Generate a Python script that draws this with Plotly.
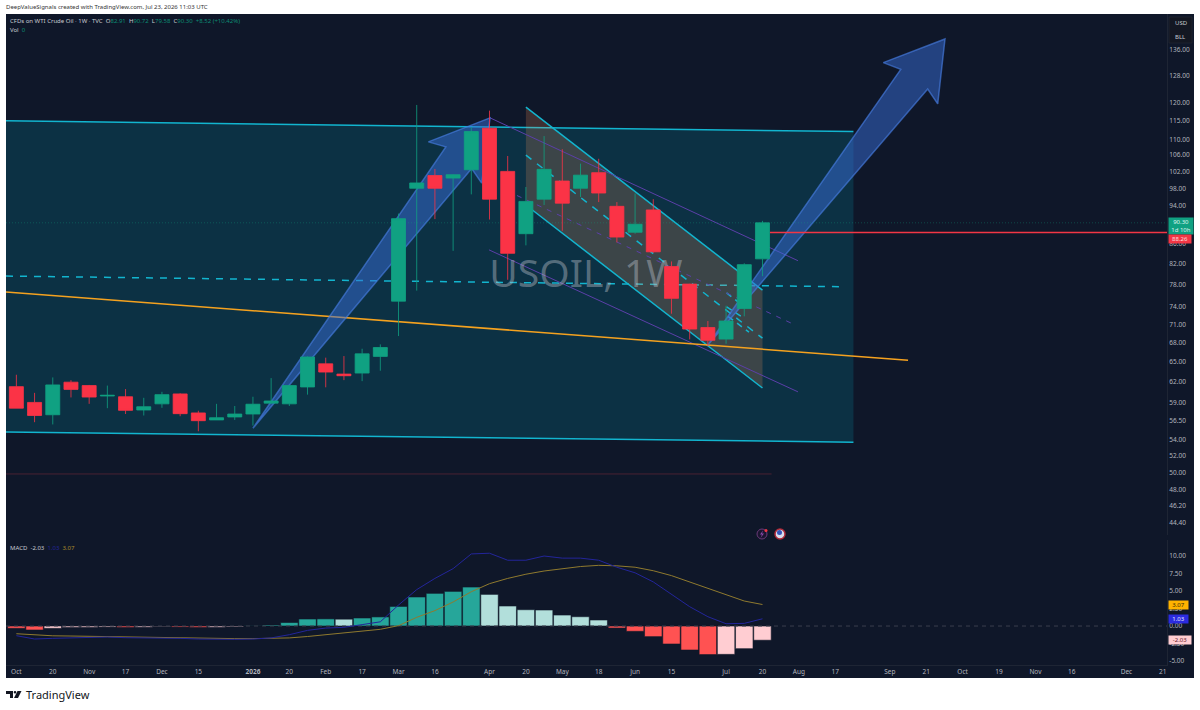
"""USOIL weekly chart with drawings and MACD pane."""

import plotly.graph_objects as go

# Candles, one per week
week_open = [61.25, 59.0, 57.3, 61.9, 61.4, 59.9, 59.8, 57.95, 58.8, 60.2, 57.55, 56.6, 57.0, 57.4,
             58.9, 58.8, 61.2, 64.65, 63.1, 63.25, 65.8, 75.0, 98.0, 101.0, 100.4, 102.4, 113.0, 102.0,
             88.0, 95.5, 99.7, 98.0, 101.7, 93.9, 88.3, 93.1, 81.4, 78.1, 70.45, 68.55, 73.7, 82.91]
week_high = [63.0, 60.35, 62.6, 62.2, 61.5, 61.4, 60.9, 59.65, 60.5, 60.3, 57.85, 58.8, 58.5, 59.8,
             62.5, 61.5, 65.8, 65.6, 65.85, 67.0, 67.7, 92.3, 119.4, 102.6, 101.3, 113.3, 117.8, 105.8,
             98.3, 110.9, 107.5, 103.9, 105.1, 94.85, 96.8, 95.5, 82.4, 78.15, 71.55, 74.2, 82.05, 90.72]
week_low = [58.2, 56.3, 56.0, 59.7, 58.8, 58.2, 57.4, 57.2, 58.25, 57.1, 55.1, 56.6, 56.6, 55.85,
            58.9, 58.5, 60.1, 61.15, 62.2, 62.05, 63.6, 69.05, 76.9, 91.1, 84.5, 96.6, 91.0, 78.9,
            85.6, 94.2, 88.6, 96.0, 94.85, 86.2, 88.0, 84.1, 72.8, 68.5, 67.4, 67.8, 72.35, 79.58]
week_close = [58.2, 57.2, 61.5, 60.85, 59.75, 60.0, 57.9, 58.4, 60.1, 57.45, 56.5, 56.9, 57.4, 58.75,
              59.2, 61.4, 65.7, 63.4, 62.85, 66.2, 67.2, 91.2, 99.25, 98.0, 101.2, 112.1, 95.5, 84.0,
              95.0, 102.5, 94.6, 101.1, 96.9, 87.3, 90.0, 84.3, 75.5, 70.2, 68.35, 71.55, 81.78, 90.3]

# MACD pane
macd_hist = [-0.33, -0.57, -0.33, -0.2, -0.19, -0.15, -0.2, -0.17, -0.08, -0.15, -0.2, -0.18, -0.12, 0.03,
             0.15, 0.5, 1.0, 1.02, 0.98, 1.15, 1.3, 2.8, 4.15, 4.67, 4.95, 5.57, 4.52, 2.86,
             2.33, 2.29, 1.57, 1.33, 0.86, -0.29, -0.76, -1.52, -2.57, -3.43, -4.08, -4.05, -3.24, -2.03]
macd_line = [-1.38, -1.86, -1.76, -1.67, -1.62, -1.57, -1.67, -1.67, -1.67, -1.76, -1.86, -1.9, -1.9, -1.86,
             -1.7, -1.24, -0.62, -0.29, -0.19, 0.2, 0.6, 3.0, 5.2, 6.8, 8.2, 10.3, 10.4, 9.4,
             9.4, 10.0, 9.7, 9.7, 9.4, 8.4, 7.6, 6.3, 4.5, 2.76, 1.33, 0.33, 0.38, 1.03]
signal_line = [-1.1, -1.3, -1.4, -1.43, -1.48, -1.5, -1.55, -1.6, -1.6, -1.65, -1.7, -1.75, -1.8, -1.8,
               -1.8, -1.7, -1.5, -1.25, -1.0, -0.75, -0.47, 0.05, 1.24, 2.2, 3.43, 4.9, 6.05, 6.8,
               7.4, 7.86, 8.2, 8.5, 8.67, 8.6, 8.4, 7.9, 7.2, 6.3, 5.3, 4.4, 3.57, 3.07]

# Axis labels
time_ticks = [0, 2, 4, 6, 8, 10, 13, 15, 17, 19, 21, 23, 26, 28, 30, 32, 34, 36, 39, 41, 43, 45, 48, 50, 52, 54, 56, 58, 61, 63]
time_labels = ["Oct", "20", "Nov", "17", "Dec", "15", "<b>2026</b>", "20", "Feb", "17", "Mar", "16", "Apr", "20",
               "May", "18", "Jun", "15", "Jul", "20", "Aug", "17", "Sep", "21", "Oct", "19", "Nov", "16", "Dec", "21"]
price_ticks = [136, 128, 120, 115, 110, 106, 102, 98, 94, 86, 82, 78, 74, 71, 68, 65, 62, 59, 56.5,
               54, 52, 50, 48, 46.2, 44.4, 42.8]
macd_ticks = [10, 7.5, 5, 2.5, 0, -2.5, -5]

# Drawings, as (week index, price) pairs
channel_x = [-0.57, 46]
channel_top = [115, 112.1]
channel_bottom = [55, 53.7]
channel_mid_x = [-0.57, 45.5]
channel_mid = [79.6, 77.6]
support_x = [-0.57, 49]
support = [76.65, 65.2]
faint_x = [-0.57, 41.5]
faint = [49.8, 49.8]

down_x = [28, 41]
down_top = [118.8, 77.0]
down_bottom = [94.2, 61.05]
down_mid = [106.0, 68.7]

fork_upper_x = [26.03, 42.95]
fork_upper = [115.8, 82.55]
fork_mid_x = [26.96, 42.68]
fork_mid = [97.4, 71.05]
fork_lower_x = [25.97, 42.95]
fork_lower = [84.7, 60.5]

short_dash_x = [[39.03, 40.04], [39.03, 40.04], [39.12, 40.26]]
short_dash = [[76.5, 73.9], [74.0, 71.9], [72.3, 69.7]]

arrow1_x = [13.0, 23.6, 22.64, 26.03, 25.57, 25.02, 13.0]
arrow1_y = [55.5, 108.1, 109.4, 115.8, 99.2, 102.7, 55.5]
arrow2_x = [38.0, 48.6, 47.64, 51.03, 50.63, 50.08, 38.0]
arrow2_y = [67.6, 129.9, 132.0, 139.6, 119.7, 124.0, 67.6]

last_price = 90.3
target_price = 88.26
X_LEFT, X_RIGHT = -0.57, 63.23

NAVY = "#0f1729"
CYAN = "#12b5cf"
PURPLE = "#5b3fa8"
UP = "#10a182"
DOWN = "#fb3346"
FONT = "Noto Sans"


def px(x):
    return x / 1200


def py(y):
    return 1 - y / 710


def add_line(fig, x, y, color, width=1.5, dash=None):
    fig.add_trace(go.Scatter(x=x, y=y, mode="lines", yaxis="y",
                             line=dict(color=color, width=width, dash=dash)))


def add_label(fig, x, y, text, color="#b2b5be", size=6, bg=None, width=None, height=None):
    fig.add_annotation(xref="paper", yref="paper", x=px(x), y=py(y), text=text, showarrow=False,
                       xanchor="left", yanchor="middle", align="center" if width else "left",
                       bgcolor=bg, borderpad=0, width=width, height=height,
                       font=dict(family=FONT, size=size, color=color))


weeks = list(range(len(week_close)))

# Histogram colours follow the rising/falling rule of the indicator
hist_colors = []
for i, v in enumerate(macd_hist):
    rising = i > 0 and v > macd_hist[i - 1]
    if v >= 0:
        hist_colors.append("#26a69a" if rising else "#b2dfdb")
    else:
        hist_colors.append("#ffcdd2" if rising else "#ff5252")

fig = go.Figure()

# Big channel
fig.add_trace(go.Scatter(x=channel_x + channel_x[::-1], y=channel_top + channel_bottom[::-1], mode="none",
                         fill="toself", fillcolor="rgba(0,188,212,0.16)", yaxis="y"))
add_line(fig, channel_x, channel_top, CYAN)
add_line(fig, channel_x, channel_bottom, CYAN)
add_line(fig, channel_mid_x, channel_mid, CYAN, dash="7px,7px")
add_line(fig, faint_x, faint, "#4a2233", width=1)

# Down channel
fig.add_trace(go.Scatter(x=down_x + down_x[::-1], y=down_top + down_bottom[::-1], mode="none",
                         fill="toself", fillcolor="rgba(255,150,90,0.2)", yaxis="y"))
add_line(fig, down_x, down_top, CYAN)
add_line(fig, down_x, down_bottom, CYAN)
add_line(fig, down_x, down_mid, CYAN, dash="7px,7px")
for sx, sy in zip(short_dash_x, short_dash):
    add_line(fig, sx, sy, CYAN, dash="6px,5px")

add_line(fig, fork_upper_x, fork_upper, PURPLE, width=1)
add_line(fig, fork_mid_x, fork_mid, PURPLE, width=1, dash="5px,6px")
add_line(fig, fork_lower_x, fork_lower, PURPLE, width=1)

add_line(fig, support_x, support, "#f5a21f")

# Watermark sits under the candles
fig.add_trace(go.Scatter(x=[31.3], y=[79.4], mode="text", text=["USOIL, 1W"], yaxis="y",
                         textfont=dict(family=FONT, size=39, color="rgba(190,195,205,0.42)")))

for ax, ay in [(arrow1_x, arrow1_y), (arrow2_x, arrow2_y)]:
    fig.add_trace(go.Scatter(x=ax, y=ay, mode="lines", fill="toself", yaxis="y",
                             fillcolor="rgba(55,110,215,0.5)",
                             line=dict(color="rgba(70,125,225,0.65)", width=1.5)))

add_line(fig, [X_LEFT, X_RIGHT], [last_price, last_price], "rgba(16,161,130,0.35)", width=1, dash="1px,2px")
add_line(fig, [41.4, X_RIGHT], [target_price, target_price], "#f23645")

# Candles on an overlay axis so they draw above everything else
fig.add_trace(go.Candlestick(x=weeks, open=week_open, high=week_high, low=week_low, close=week_close,
                             yaxis="y2", whiskerwidth=0,
                             increasing=dict(line=dict(color=UP, width=0.8), fillcolor=UP),
                             decreasing=dict(line=dict(color=DOWN, width=0.8), fillcolor=DOWN)))

# MACD
fig.add_trace(go.Bar(x=weeks, y=macd_hist, yaxis="y3", marker=dict(color=hist_colors, line=dict(color=NAVY, width=0.6))))
fig.add_trace(go.Scatter(x=[X_LEFT, X_RIGHT], y=[0, 0], mode="lines", yaxis="y3",
                         line=dict(color="#3a3f4d", width=1, dash="4px,4px")))
fig.add_trace(go.Scatter(x=weeks, y=signal_line, mode="lines", yaxis="y3", line=dict(color="#8f7a2e", width=1)))
fig.add_trace(go.Scatter(x=weeks, y=macd_line, mode="lines", yaxis="y3", line=dict(color="#23259a", width=1)))

tick_font = dict(family=FONT, size=6.5, color="#b2b5be")
fig.update_layout(
    width=1200, height=710, margin=dict(l=0, r=0, t=0, b=0), autosize=False,
    paper_bgcolor="white", plot_bgcolor=NAVY, showlegend=False, hovermode=False,
    bargap=0.04, boxgap=0.23, boxgroupgap=0,
    xaxis=dict(domain=[px(6), px(1167)], range=[X_LEFT, X_RIGHT], anchor="y3", tickmode="array",
               tickvals=time_ticks, ticktext=time_labels, tickfont=tick_font, ticks="", showgrid=False,
               zeroline=False, rangeslider=dict(visible=False), showline=True, linecolor="#1e2534"),
    yaxis=dict(domain=[py(535), py(14)], type="log", range=[1.63441, 2.17059], side="right", anchor="x",
               tickmode="array", tickvals=price_ticks, ticktext=[f"{t:.2f}" for t in price_ticks],
               tickfont=tick_font, ticks="", showgrid=False, zeroline=False, showline=True, linecolor="#1e2534"),
    yaxis2=dict(domain=[py(535), py(14)], type="log", range=[1.63441, 2.17059], overlaying="y", side="right",
                visible=False),
    yaxis3=dict(domain=[py(665), py(540)], range=[-5.57, 12.29], side="right", anchor="x", tickmode="array",
                tickvals=macd_ticks, ticktext=[f"{t:.2f}" for t in macd_ticks], tickfont=tick_font, ticks="",
                showgrid=False, zeroline=False, showline=True, linecolor="#1e2534"),
)

# Chart frame behind the price scale and time scale
fig.add_shape(type="rect", xref="paper", yref="paper", x0=px(6), x1=px(1194), y0=py(678), y1=py(14),
              fillcolor=NAVY, line_width=0, layer="below")

# Header and legends
add_label(fig, 5, 7, "DeepValueSignals created with TradingView.com, Jul 23, 2026 11:03 UTC", color="#333333")
G = "#0d8a72"
add_label(fig, 9, 21, f'CFDs on WTI Crude Oil · 1W · TVC  O<span style="color:{G}">82.91</span>  '
                      f'H<span style="color:{G}">90.72</span>  L<span style="color:{G}">79.58</span>  '
                      f'C<span style="color:{G}">90.30</span>  <span style="color:{G}">+8.52 (+10.42%)</span>',
          color="#c8cad0")
add_label(fig, 9, 30, f'Vol  <span style="color:{G}">0</span>', color="#c8cad0")
add_label(fig, 9, 548, 'MACD  -2.03  <span style="color:#23259a">1.03</span>  <span style="color:#a88a2a">3.07</span>',
          color="#c8cad0")

# Price scale tags
fig.add_shape(type="rect", xref="paper", yref="paper", x0=px(1169), x1=px(1192), y0=py(43), y1=py(17),
              fillcolor="#131722", line=dict(color="#2a2e39", width=0.5))
add_label(fig, 1174, 23, "USD", color="#c8cad0")
add_label(fig, 1174, 37, "BLL", color="#c8cad0")
add_label(fig, 1168, 226, "90.30<br>1d 10h", color="#dff5ef", bg=UP, width=24, height=16)
add_label(fig, 1168, 239, "88.26", color="#ffd9dc", bg="#f23645", width=22, height=8)
add_label(fig, 1168, 604.5, "3.07", color="#3a2a00", bg="#ffb300", width=19, height=8)
add_label(fig, 1168, 618.5, "1.03", color="#e6e8ff", bg="#2b2be0", width=19, height=8)
add_label(fig, 1168, 640, "-2.03", color="#6a1a28", bg="#ffcdd2", width=22, height=8)

# Event icons
fig.add_shape(type="circle", xref="paper", yref="paper", x0=px(757), x1=px(767), y0=py(539), y1=py(529),
              fillcolor="#1a1530", line=dict(color="#6a3a78", width=1))
bolt = [(763, 530.5), (760, 534.5), (762, 534.5), (760.5, 538), (764, 533.5), (762, 533.5)]
fig.add_shape(type="path", xref="paper", yref="paper", line_width=0, fillcolor="#8a4aa8",
              path="M " + " L ".join(f"{px(a):.5f},{py(b):.5f}" for a, b in bolt) + " Z")
fig.add_shape(type="circle", xref="paper", yref="paper", x0=px(764.5), x1=px(767.5), y0=py(532), y1=py(529),
              fillcolor="#f23645", line_width=0)
fig.add_shape(type="circle", xref="paper", yref="paper", x0=px(775), x1=px(785), y0=py(539), y1=py(529),
              fillcolor="#d8dcec", line=dict(color="#b02a3a", width=1.5))
fig.add_shape(type="circle", xref="paper", yref="paper", x0=px(777), x1=px(782), y0=py(535), y1=py(530),
              fillcolor="#3355bb", line_width=0)

# Logo
logo_a = [(6, 691), (13, 691), (13, 698), (10, 698), (10, 694), (6, 694)]
logo_b = [(17.5, 691), (21.5, 691), (18, 698), (14, 698)]
for pts in (logo_a, logo_b):
    path = "M " + " L ".join(f"{px(a):.5f},{py(b):.5f}" for a, b in pts) + " Z"
    fig.add_shape(type="path", xref="paper", yref="paper", path=path, fillcolor="#131722", line_width=0)
fig.add_shape(type="circle", xref="paper", yref="paper", x0=px(13.7), x1=px(16.3), y0=py(693.6), y1=py(691),
              fillcolor="#131722", line_width=0)
add_label(fig, 25, 694, "TradingView", color="#131722", size=11)

fig.write_html("out.html", config=dict(displayModeBar=False), post_script="document.body.style.margin='0';")
